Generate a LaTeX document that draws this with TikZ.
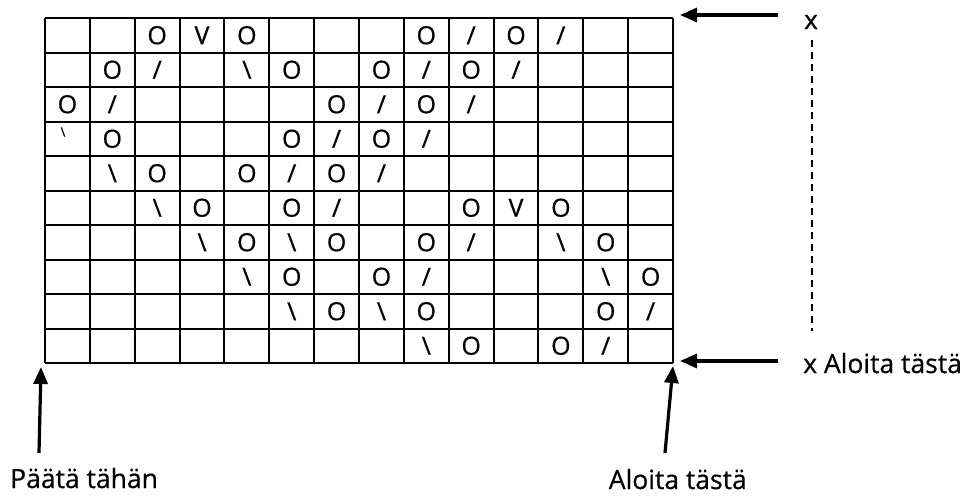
\documentclass[tikz,border=0pt]{standalone}
\usepackage{fontspec}
\setmainfont{Open Sans}[UprightFeatures={FakeBold=0.6}]
\usetikzlibrary{arrows.meta}

% stitch symbols used in the chart
\newcommand{\stO}{O}
\newcommand{\stV}{V}
\newcommand{\stS}{/}
\newcommand{\stB}{\textbackslash}

\tikzset{
  gridline/.style={line width=2pt},
  stitch/.style={font=\fontsize{25}{25}\selectfont, inner sep=0pt},
  smallstitch/.style={font=\fontsize{13}{13}\selectfont, inner sep=0pt},
  pointer/.style={line width=3.2pt, -{Triangle[length=17pt,width=14pt]}},
  dashline/.style={line width=1.6pt, dash pattern=on 7pt off 5pt},
  caption/.style={font=\fontsize{26.5}{26.5}\selectfont, inner sep=0pt},
}

\begin{document}
\begin{tikzpicture}[x=1pt, y=-1pt]
  \useasboundingbox (0,0) rectangle (970,496);

  % chart grid: 14 stitches x 10 rows
  \foreach \c in {0,...,14}
    \draw[gridline] ({45+44.86*\c},18) -- ({45+44.86*\c},363);
  \foreach \r in {0,...,10}
    \draw[gridline] (45,{18+34.5*\r}) -- (673,{18+34.5*\r});

  % symbols: column/row/symbol
  \foreach \c/\r/\s in {
      3/1/O, 4/1/V, 5/1/O, 9/1/O, 10/1/S, 11/1/O, 12/1/S,
      2/2/O, 3/2/S, 5/2/B, 6/2/O, 8/2/O, 9/2/S, 10/2/O, 11/2/S,
      1/3/O, 2/3/S, 7/3/O, 8/3/S, 9/3/O, 10/3/S,
      2/4/O, 6/4/O, 7/4/S, 8/4/O, 9/4/S,
      2/5/B, 3/5/O, 5/5/O, 6/5/S, 7/5/O, 8/5/S,
      3/6/B, 4/6/O, 6/6/O, 7/6/S, 10/6/O, 11/6/V, 12/6/O,
      4/7/B, 5/7/O, 6/7/B, 7/7/O, 9/7/O, 10/7/S, 12/7/B, 13/7/O,
      5/8/B, 6/8/O, 8/8/O, 9/8/S, 13/8/B, 14/8/O,
      6/9/B, 7/9/O, 8/9/B, 9/9/O, 13/9/O, 14/9/S,
      9/10/B, 10/10/O, 12/10/O, 13/10/S}
    \node[stitch] (m-\c-\r) at ({45+44.86*(\c-0.5)},{18+34.5*(\r-0.5)})
      {\csname st\s\endcsname};
  \node[smallstitch] (m-1-4) at (63,132) {\stB};

  % pointers
  \coordinate (top-tail) at (778,15);
  \coordinate (top-tip) at (680,15);
  \coordinate (bot-tail) at (778,361);
  \coordinate (bot-tip) at (680,361);
  \coordinate (start-tail) at (665,453);
  \coordinate (start-tip) at (673,366);
  \coordinate (end-tail) at (39,453);
  \coordinate (end-tip) at (41,367);
  \coordinate (dash-top) at (812,40);
  \coordinate (dash-bot) at (812,331);

  \draw[pointer] (top-tail) -- (top-tip);
  \draw[pointer] (bot-tail) -- (bot-tip);
  \draw[pointer] (start-tail) -- (start-tip);
  \draw[pointer] (end-tail) -- (end-tip);
  \draw[dashline] (dash-top) -- (dash-bot);

  % labels
  \node[caption] (x-top) at (811,22) {x};
  \node[caption, anchor=base west] (x-start) at (803,373) {x Aloita tästä};
  \node[caption, anchor=base east] (start) at (747,489) {Aloita tästä};
  \node[caption, anchor=base west] (end) at (10,488) {Päätä tähän};
\end{tikzpicture}
\end{document}
